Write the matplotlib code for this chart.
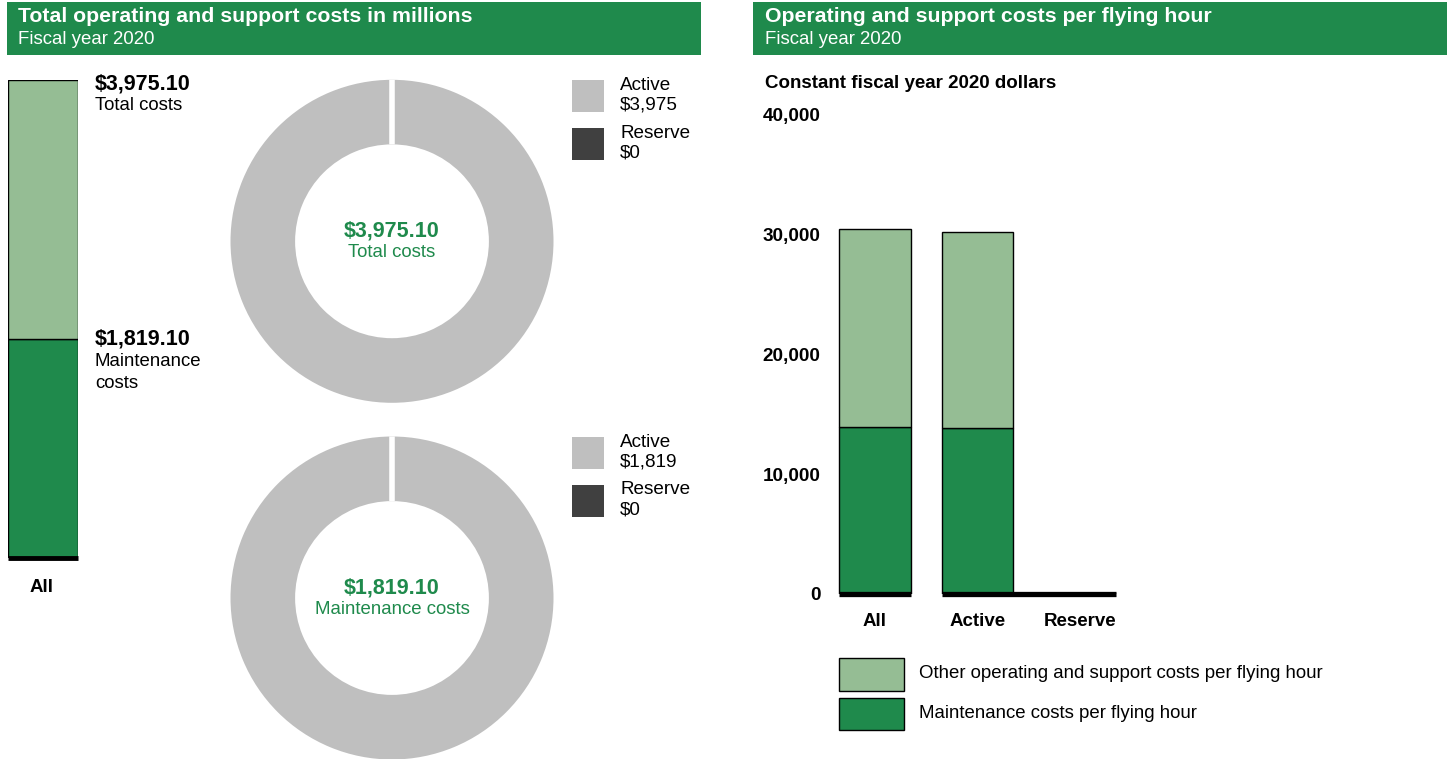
import matplotlib.pyplot as plt
from matplotlib.patches import Rectangle

plt.rcParams['font.family'] = ['Liberation Sans', 'DejaVu Sans']

W, H = 1453, 759

DARK_GREEN = '#1f8a4c'
LIGHT_GREEN = '#95bd94'
GRAY = '#bfbfbf'
DARK_GRAY = '#404040'

# left panel: totals in millions
total_costs = 3975.10
maintenance_costs = 1819.10
donut_labels = ['Active', 'Reserve']
total_split = [3975.10, 0.0]
maintenance_split = [1819.10, 0.0]

# right panel: cost per flying hour
groups = ['All', 'Active', 'Reserve']
maint_per_hour = [13900, 13850, 0]
other_per_hour = [16500, 16300, 0]
yticks = [0, 10000, 20000, 30000, 40000]

FS = 13.4       # regular text
FS_BIG = 15.5   # bold dollar figures / titles


def box(x0, y0, x1, y1):
    # pixel box (top-left origin) -> figure fraction rect
    return [x0 / W, 1 - y1 / H, (x1 - x0) / W, (y1 - y0) / H]


def txt(x, y, s, **kw):
    kw.setdefault('va', 'center')
    kw.setdefault('ha', 'left')
    fig.text(x / W, 1 - y / H, s, **kw)


def rect(x0, y0, x1, y1, color, edge='none'):
    fig.patches.append(Rectangle((x0 / W, 1 - y1 / H), (x1 - x0) / W, (y1 - y0) / H,
                                 transform=fig.transFigure, facecolor=color,
                                 edgecolor=edge, linewidth=1))


fig = plt.figure(figsize=(W / 100, H / 100), dpi=100)

# header bands
rect(7, 2, 701, 55, DARK_GREEN)
rect(753, 2, 1447, 55, DARK_GREEN)
txt(18, 17, 'Total operating and support costs in millions', color='white',
    fontsize=15.3, fontweight='bold')
txt(18, 39, 'Fiscal year 2020', color='white', fontsize=FS)
txt(765, 17, 'Operating and support costs per flying hour', color='white',
    fontsize=15.3, fontweight='bold')
txt(765, 39, 'Fiscal year 2020', color='white', fontsize=FS)

# stacked total bar
axb = fig.add_axes(box(8, 80, 78, 558))
axb.bar(0, maintenance_costs, width=1, color=DARK_GREEN, edgecolor='black', linewidth=1)
axb.bar(0, total_costs - maintenance_costs, bottom=maintenance_costs, width=1,
        color=LIGHT_GREEN, edgecolor='black', linewidth=1)
axb.hlines(0, -0.5, 0.5, color='black', linewidth=3.5, clip_on=False)
axb.set_xlim(-0.5, 0.5)
axb.set_ylim(0, total_costs)
axb.axis('off')

txt(95, 84, f'${total_costs:,.2f}', fontsize=FS_BIG, fontweight='bold')
txt(95, 105, 'Total costs', fontsize=FS)
txt(95, 339, f'${maintenance_costs:,.2f}', fontsize=FS_BIG, fontweight='bold')
txt(95, 361, 'Maintenance', fontsize=FS)
txt(95, 383, 'costs', fontsize=FS)
txt(42, 587, 'All', fontsize=13.5, fontweight='bold', ha='center')


def donut(cy, values, center_label):
    r = 161.5
    ax = fig.add_axes(box(392 - r, cy - r, 392 + r, cy + r))
    wedges, _ = ax.pie(values, colors=[GRAY, DARK_GRAY], startangle=90,
                       counterclock=False, radius=1,
                       wedgeprops=dict(width=0.4, linewidth=0))
    wedges[1].set_edgecolor('white')
    wedges[1].set_linewidth(4)
    ax.set_xlim(-1, 1)
    ax.set_ylim(-1, 1)
    ax.axis('off')
    txt(392, cy - 10, f'${sum(values):,.2f}', color=DARK_GREEN, fontsize=FS_BIG,
        fontweight='bold', ha='center')
    txt(392, cy + 11, center_label, color=DARK_GREEN, fontsize=FS, ha='center')

    top = cy - 161
    rect(572, top, 604, top + 32, GRAY)
    rect(572, top + 48, 604, top + 80, DARK_GRAY)
    txt(620, top + 5, donut_labels[0], fontsize=13.6)
    txt(620, top + 25, f'${values[0]:,.0f}', fontsize=13.6)
    txt(620, top + 53, donut_labels[1], fontsize=13.6)
    txt(620, top + 73, f'${values[1]:,.0f}', fontsize=13.6)


donut(241.3, total_split, 'Total costs')
donut(598, maintenance_split, 'Maintenance costs')

# per flying hour bars
px_per_unit = 102.7
x0_px = 875
ax_left, ax_right = 826, 1140
ax = fig.add_axes(box(ax_left, 114, ax_right, 594))
pos = list(range(len(groups)))
bw = 0.695
ax.bar(pos, maint_per_hour, width=bw, color=DARK_GREEN, edgecolor='black', linewidth=1)
ax.bar(pos, other_per_hour, bottom=maint_per_hour, width=bw, color=LIGHT_GREEN,
       edgecolor='black', linewidth=1)
ax.hlines(0, pos[0] - bw / 2, pos[0] + bw / 2, color='black', linewidth=3.8, clip_on=False)
ax.hlines(0, pos[1] - bw / 2, pos[2] + bw / 2, color='black', linewidth=3.8, clip_on=False)
ax.set_xlim(-(x0_px - ax_left) / px_per_unit, (ax_right - x0_px) / px_per_unit)
ax.set_ylim(0, 40000)
ax.set_yticks(yticks)
ax.set_yticklabels([f'{v:,}' for v in yticks], fontsize=13.6, fontweight='bold')
ax.set_xticks(pos)
ax.set_xticklabels(groups, fontsize=13.5, fontweight='bold')
ax.tick_params(length=0)
ax.tick_params(axis='y', pad=4)
ax.tick_params(axis='x', pad=14)
for s in ax.spines.values():
    s.set_visible(False)
ax.patch.set_visible(False)

txt(765, 84, 'Constant fiscal year 2020 dollars', fontsize=13.5, fontweight='bold')

rect(839, 658, 904, 691, LIGHT_GREEN, edge='black')
rect(839, 698, 904, 730, DARK_GREEN, edge='black')
txt(919, 674, 'Other operating and support costs per flying hour', fontsize=FS)
txt(919, 714, 'Maintenance costs per flying hour', fontsize=FS)

fig.savefig('out.png', dpi=100)
